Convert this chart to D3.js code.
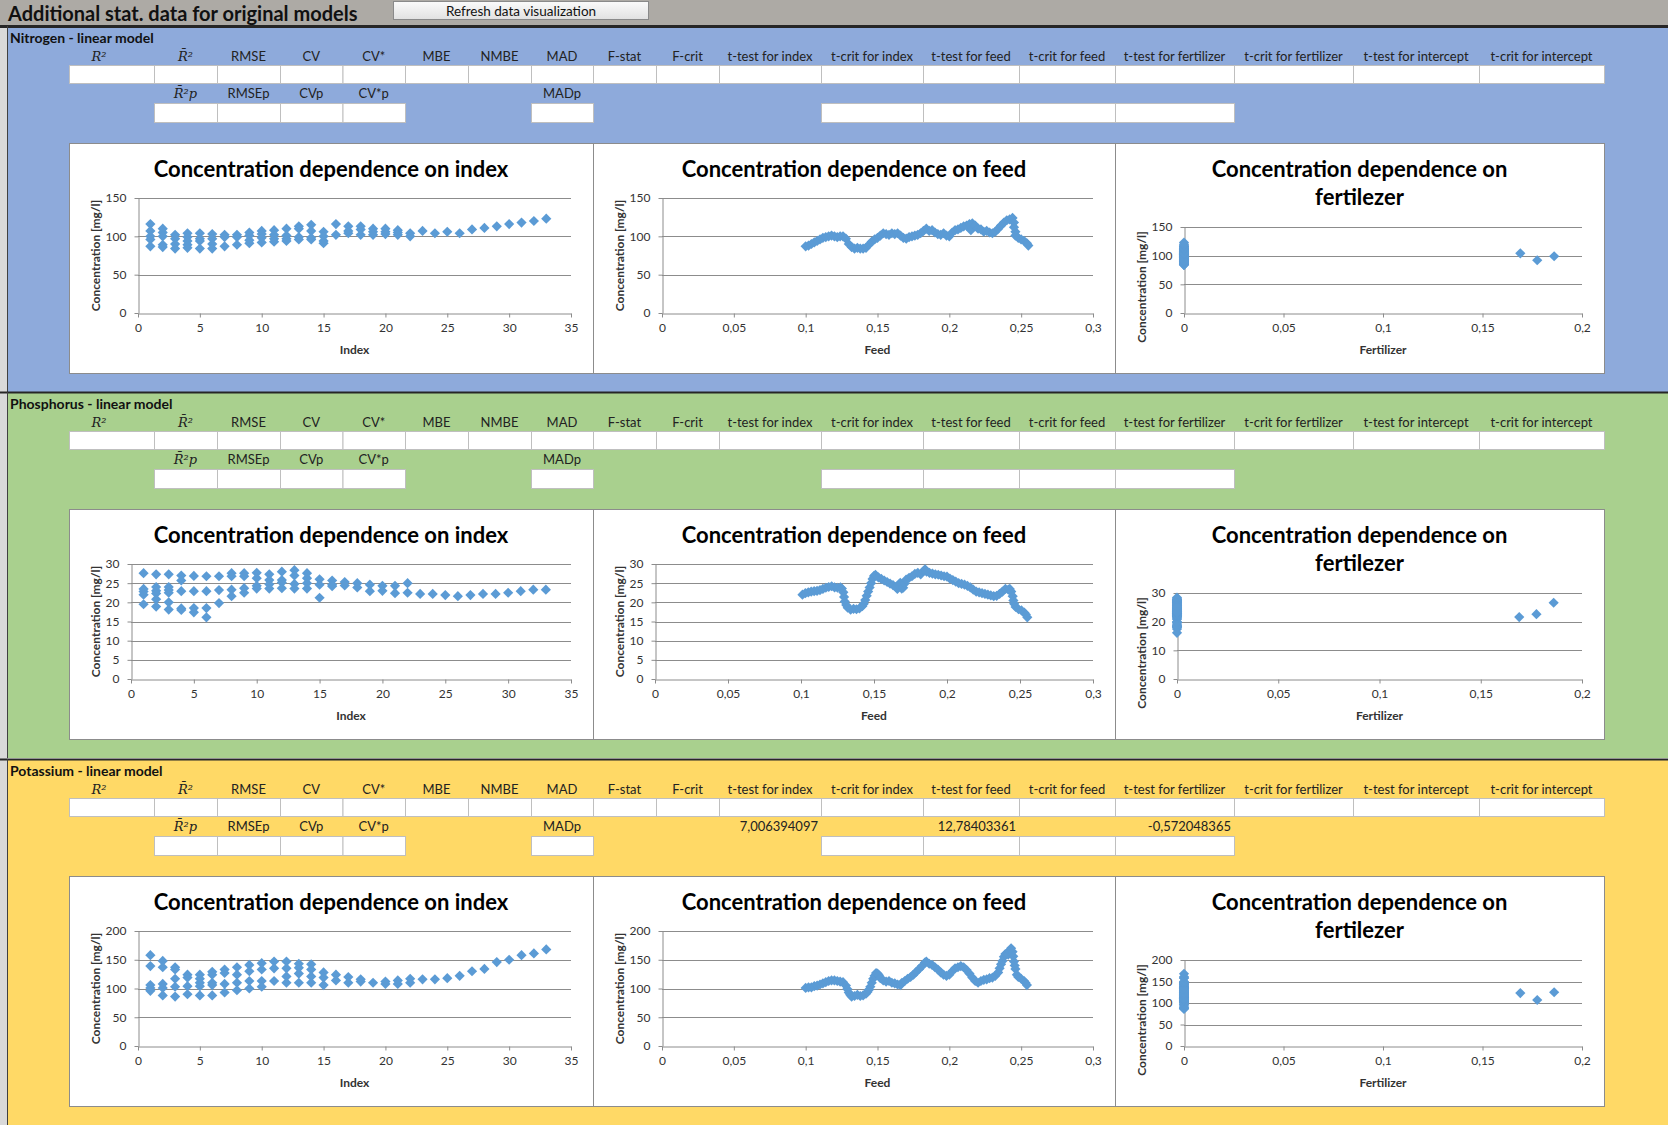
<!DOCTYPE html>
<html>
<head>
<meta charset="utf-8">
<script src="https://cdn.jsdelivr.net/npm/d3@7"></script>
<style>
  body { margin: 0; background: #fff; }
  svg { display: block; font-family: Lato, "Open Sans", sans-serif; }
</style>
</head>
<body>
<svg id="sheet" width="1668" height="1125"></svg>
<script>
// ---- data ----
const nutrients = ["Nitrogen", "Phosphorus", "Potassium"];

const statLabels = ["R²", "R\u0304²", "RMSE", "CV", "CV*", "MBE", "NMBE", "MAD", "F-stat", "F-crit",
  "t-test for index", "t-crit for index", "t-test for feed", "t-crit for feed",
  "t-test for fertilizer", "t-crit for fertilizer", "t-test for intercept", "t-crit for intercept"];
const predLabels = [[1, "R\u0304²p"], [2, "RMSEp"], [3, "CVp"], [4, "CV*p"], [7, "MADp"]];
const predCells = [1, 2, 3, 4, 7, 11, 12, 13, 14];
const kTValues = [[10, "7,006394097"], [12, "12,78403361"], [14, "-0,572048365"]];

// concentration per index (several observations per index)
const nIndex = [
  [116,107,100,96,87],[110,105,100,89,86],[102,97,90,84],[104,99,94,89,85],[104,97,94,84],
  [103,97,90,84],[102,99,87],[102,99,89],[105,101,95,91],[107,103,98,92],[108,102,97,93],
  [110,101,97,94],[113,110,99,96],[115,107,98,96],[106,100,94,91],[116,102],[113,107,104],
  [113,109,102],[110,106,102],[110,106,103],[108,105,102],[104,100],
  [107],[104],[106],[104],[109],[111],[113],[116],[118],[120],[123]
];
const pIndex = [
  [27.6,23.5,22.8,22,19.5],[27.3,24,23,22.3,20.8,18.9],[27.3,24,23.2,22.5,20,18.1],[27,25.7,22.9,18.4,18],
  [26.9,22.9,18.5,17.4],[26.8,22.9,18.5,16.1],[26.8,23.2,19.8],[27.6,26.8,23.3,21.6],[27.6,26.8,23.7,22.5],
  [27.7,26.3,24.3,23.6],[27.3,25.8,24.7,23.6],[28,25.8,25.2,23.7],[28.4,27,24.8,23.6],[27.6,26.3,25,23.6],
  [26,24.6,21.2],[25.7,24.6,24.2],[25.3,24.4],[25,23.9],[24.6,22.9],[24.3,23],[24.3,22.4],[25,22.5],
  [22.2],[22.2],[21.9],[21.6],[21.9],[22.2],[22.2],[22.5],[22.9],[23.3],[23.3]
];
const kIndex = [
  [158,139,106,101,96],[148,137,108,101,88],[137,133,117,103,86],[124,119,104,90],[124,117,110,104,88],
  [129,124,110,106,88],[133,127,108,93],[137,124,110,97],[141,130,113,100],[144,133,113,103],
  [147,135,113],[147,135,121,110],[143,136,126,110],[142,133,121,110],[128,119,106],[124,114],
  [120,110],[116,112],[110],[112,108],[114,108],[117,110],
  [116],[116],[118],[122],[130],[134],[146],[150],[158],[161],[168]
];

// [feed, concentration]
const nFeed = [
  [0.100,87],[0.102,88],[0.104,90],[0.106,92],[0.108,94],[0.110,96],[0.112,98],[0.114,99],[0.116,100],
  [0.118,101],[0.120,100],[0.122,99],[0.124,100],[0.126,100],[0.128,97],[0.130,90],[0.132,86],[0.134,84],
  [0.136,85],[0.138,84],[0.140,84],[0.142,85],[0.144,89],[0.146,93],[0.148,96],[0.150,98],[0.152,101],
  [0.154,104],[0.156,103],[0.158,102],[0.160,104],[0.162,103],[0.164,104],[0.166,101],[0.168,98],
  [0.170,97],[0.172,99],[0.174,100],[0.176,101],[0.178,102],[0.180,104],[0.182,107],[0.184,110],
  [0.186,107],[0.188,108],[0.190,105],[0.192,103],[0.194,102],[0.196,104],[0.198,101],[0.200,100],
  [0.202,105],[0.204,108],[0.206,109],[0.208,111],[0.210,113],[0.212,114],[0.214,116],[0.215,108],
  [0.216,117],[0.218,114],[0.220,110],[0.222,109],[0.224,106],[0.226,107],[0.228,105],[0.230,104],
  [0.232,106],[0.234,110],[0.236,114],[0.238,118],[0.240,121],[0.242,122],[0.244,124],[0.245,118],
  [0.245,112],[0.246,106],[0.246,101],[0.248,98],[0.250,96],[0.252,94],[0.254,91],[0.255,88]
];
const pFeed = [
  [0.101,22.0],[0.103,22.4],[0.105,22.6],[0.107,22.8],[0.109,22.9],[0.111,23.0],[0.113,23.2],[0.115,23.5],
  [0.117,23.8],[0.119,24.0],[0.121,24.2],[0.123,23.9],[0.125,23.8],[0.127,23.9],[0.128,23.6],[0.129,22.6],
  [0.1295,21.4],[0.130,20.2],[0.131,19.3],[0.132,18.6],[0.134,18.1],[0.136,18.3],[0.138,18.2],[0.140,18.4],
  [0.142,19.0],[0.143,19.6],[0.144,20.6],[0.145,21.7],[0.146,22.8],[0.147,23.9],[0.148,25.0],[0.149,26.1],
  [0.150,26.9],[0.151,27.2],[0.153,26.5],[0.155,26.1],[0.157,25.7],[0.159,25.3],[0.161,24.9],[0.163,24.5],
  [0.165,24.0],[0.166,23.5],[0.167,24.6],[0.168,25.1],[0.169,23.6],[0.170,23.8],[0.171,24.9],[0.172,25.9],
  [0.174,26.4],[0.176,26.8],[0.178,27.4],[0.180,27.7],[0.182,27.3],[0.184,28.2],[0.185,28.6],[0.186,28.0],
  [0.188,27.7],[0.190,27.5],[0.192,27.3],[0.194,27.2],[0.196,27.0],[0.198,26.8],[0.200,26.7],[0.202,26.2],
  [0.204,25.8],[0.206,25.4],[0.208,25.0],[0.210,24.8],[0.212,24.6],[0.214,24.3],[0.216,23.9],[0.218,23.3],
  [0.220,22.8],[0.222,22.6],[0.224,22.4],[0.226,22.2],[0.228,22.0],[0.230,21.8],[0.232,21.6],[0.234,21.7],
  [0.236,22.2],[0.238,22.8],[0.240,23.5],[0.242,23.3],[0.243,23.5],[0.244,22.8],[0.245,21.6],[0.2455,20.5],
  [0.246,19.6],[0.247,18.8],[0.249,18.2],[0.251,17.9],[0.253,17.3],[0.254,16.8],[0.255,16.1]
];
const kFeed = [
  [0.100,101],[0.102,102],[0.104,102],[0.106,104],[0.108,105],[0.110,107],[0.112,109],[0.114,111],
  [0.116,113],[0.118,114],[0.120,114],[0.122,113],[0.124,112],[0.126,111],[0.128,105],[0.129,99],
  [0.130,93],[0.131,89],[0.132,86],[0.134,87],[0.136,89],[0.138,87],[0.140,88],[0.142,91],[0.143,94],
  [0.144,98],[0.145,103],[0.146,110],[0.147,117],[0.148,122],[0.149,127],[0.150,126],[0.151,123],
  [0.152,118],[0.154,114],[0.156,112],[0.158,113],[0.160,110],[0.162,109],[0.164,107],[0.166,106],
  [0.167,110],[0.169,113],[0.171,117],[0.173,120],[0.175,124],[0.177,129],[0.179,134],[0.181,139],
  [0.183,145],[0.184,147],[0.186,143],[0.188,141],[0.190,137],[0.192,133],[0.194,128],[0.196,124],
  [0.198,122],[0.200,124],[0.202,130],[0.204,135],[0.206,137],[0.208,139],[0.210,137],[0.212,132],
  [0.214,126],[0.216,119],[0.218,113],[0.220,110],[0.222,113],[0.224,115],[0.226,116],[0.228,118],
  [0.230,119],[0.232,122],[0.234,128],[0.235,135],[0.236,142],[0.237,148],[0.238,155],[0.239,160],
  [0.240,161],[0.241,159],[0.242,165],[0.243,170],[0.244,164],[0.2445,156],[0.245,147],[0.2455,140],
  [0.246,134],[0.247,124],[0.248,120],[0.250,117],[0.252,113],[0.253,110],[0.254,106]
];

// fertilizer > 0 observations (rest of the data sits at fertilizer = 0)
const fertDoses = [0.169, 0.1775, 0.186];
const nFert = [104, 92, 99];
const pFert = [21.6, 22.6, 26.6];
const kFert = [123, 107, 125];

// axes
const yMax = [150, 30, 200];
const yTicksMain = [[0,50,100,150], [0,5,10,15,20,25,30], [0,50,100,150,200]];
const yTicksFert = [[0,50,100,150], [0,10,20,30], [0,50,100,150,200]];
const xTicksIndex = [0,5,10,15,20,25,30,35];
const xTicksFeed = [0,0.05,0.1,0.15,0.2,0.25,0.3];
const xTicksFert = [0,0.05,0.1,0.15,0.2];

// ---- layout ----
const W = 1668;
const colEdges = [69,154,217,280,342.5,405,468,531,593,656,719,821,923,1019,1115,1234,1353,1479,1604];
const secTop = [26, 392, 759];
const secH = 366;
const secColor = ["#8eaadb", "#a9d08e", "#ffd966"];
const blue = "#5b9bd5";
const gridCol = "#8c8c8c";
const cellFont = 13;

const svg = d3.select("#sheet");
const comma = d => String(+(+d).toFixed(3)).replace(".", ",");

// title bar
svg.append("rect").attr("x", 0).attr("y", 0).attr("width", W).attr("height", 26).attr("fill", "#adaaa5");
svg.append("text").attr("x", 8).attr("y", 13).attr("dominant-baseline", "central")
  .attr("font-size", 20).attr("font-weight", "bold").attr("fill", "#111")
  .text("Additional stat. data for original models");

const grad = svg.append("defs").append("linearGradient").attr("id", "btn").attr("x1", 0).attr("x2", 0).attr("y1", 0).attr("y2", 1);
grad.append("stop").attr("offset", 0).attr("stop-color", "#fbfbfb");
grad.append("stop").attr("offset", 1).attr("stop-color", "#e1e1e1");
svg.append("rect").attr("x", 393.5).attr("y", 1.5).attr("width", 255).attr("height", 18)
  .attr("fill", "url(#btn)").attr("stroke", "#8a8a8a");
svg.append("text").attr("x", 521).attr("y", 10.5).attr("text-anchor", "middle").attr("dominant-baseline", "central")
  .attr("font-size", 13.5).attr("fill", "#111").text("Refresh data visualization");

// left strip
svg.append("rect").attr("x", 0).attr("y", 26).attr("width", 8).attr("height", 1125 - 26).attr("fill", "#d9d9d9");

function drawChart(g, c) {
  g.append("rect").attr("x", c.x0 + 0.5).attr("y", c.y0 + 0.5).attr("width", c.x1 - c.x0).attr("height", 230)
    .attr("fill", "#fff").attr("stroke", gridCol);
  c.title.forEach((t, i) => {
    g.append("text").attr("x", (c.x0 + c.x1) / 2).attr("y", c.y0 + 25 + i * 28)
      .attr("text-anchor", "middle").attr("dominant-baseline", "central")
      .attr("font-size", 22).attr("font-weight", "bold").attr("fill", "#000").text(t);
  });
  const left = Math.round(c.x0 + c.leftOff), right = c.x1 - 22;
  const top = c.y0 + c.topOff, bottom = c.y0 + 170;
  const x = d3.scaleLinear().domain(c.xDomain).range([left, right]);
  const y = d3.scaleLinear().domain(c.yDomain).range([bottom, top]);

  g.append("g").selectAll("line").data(c.yTicks.slice(1)).join("line")
    .attr("x1", left).attr("x2", right)
    .attr("y1", d => Math.round(y(d)) + 0.5).attr("y2", d => Math.round(y(d)) + 0.5)
    .attr("stroke", gridCol);

  const xa = g.append("g").attr("transform", `translate(0,${bottom + 0.5})`)
    .call(d3.axisBottom(x).tickValues(c.xTicks).tickFormat(comma).tickSizeInner(4).tickSizeOuter(0).tickPadding(6));
  const ya = g.append("g").attr("transform", `translate(${left + 0.5},0)`)
    .call(d3.axisLeft(y).tickValues(c.yTicks).tickFormat(comma).tickSizeInner(4).tickSizeOuter(0).tickPadding(8));
  [xa, ya].forEach(a => {
    a.attr("font-family", "Lato, sans-serif").attr("font-size", 12);
    a.selectAll("path, line").attr("stroke", gridCol);
    a.selectAll("text").attr("fill", "#333");
  });

  g.append("text").attr("x", (left + right) / 2).attr("y", c.y0 + 206)
    .attr("text-anchor", "middle").attr("dominant-baseline", "central")
    .attr("font-size", 12).attr("font-weight", "bold").attr("fill", "#333").text(c.xLabel);
  const yc = c.yTitleY != null ? c.y0 + c.yTitleY : (top + bottom) / 2;
  g.append("text").attr("transform", `translate(${c.x0 + 26},${yc}) rotate(-90)`)
    .attr("text-anchor", "middle").attr("dominant-baseline", "central")
    .attr("font-size", 12).attr("font-weight", "bold").attr("fill", "#333").text("Concentration [mg/l]");

  const sym = d3.symbol().type(d3.symbolSquare).size(52);
  g.append("g").selectAll("path").data(c.points).join("path")
    .attr("d", sym)
    .attr("transform", d => `translate(${x(d[0])},${y(d[1])}) rotate(45)`)
    .attr("fill", blue);
}

const indexData = [nIndex, pIndex, kIndex];
const feedData = [nFeed, pFeed, kFeed];
const fertData = [nFert, pFert, kFert];

nutrients.forEach((name, s) => {
  const top = secTop[s];
  const g = svg.append("g");
  g.append("rect").attr("x", 8).attr("y", top).attr("width", W - 8).attr("height", secH).attr("fill", secColor[s]);
  g.append("line").attr("x1", 0).attr("x2", W).attr("y1", top + 0.5).attr("y2", top + 0.5)
    .attr("stroke", "#262626").attr("stroke-width", s === 0 ? 3 : 2);
  g.append("line").attr("x1", 7.5).attr("x2", 7.5).attr("y1", top).attr("y2", top + secH)
    .attr("stroke", "#404040");

  g.append("text").attr("x", 10).attr("y", top + 11).attr("dominant-baseline", "central")
    .attr("font-size", 14).attr("font-weight", "bold").attr("fill", "#111").text(name + " - linear model");

  // stat header + empty cells
  statLabels.forEach((lab, i) => {
    const isMath = i < 2;
    g.append("text")
      .attr("x", i === 0 ? 99 : (colEdges[i] + colEdges[i + 1]) / 2).attr("y", top + 30)
      .attr("text-anchor", "middle").attr("dominant-baseline", "central")
      .attr("font-size", isMath ? 13 : cellFont).attr("fill", "#222")
      .attr("font-family", isMath ? "'DejaVu Serif', serif" : null)
      .attr("font-style", isMath ? "italic" : null)
      .text(lab);
    g.append("rect").attr("x", colEdges[i] + 0.5).attr("y", top + 39.5)
      .attr("width", colEdges[i + 1] - colEdges[i]).attr("height", 18)
      .attr("fill", "#fff").attr("stroke", "#bfbfbf");
  });
  predLabels.forEach(([i, lab]) => {
    const isMath = i === 1;
    g.append("text").attr("x", (colEdges[i] + colEdges[i + 1]) / 2).attr("y", top + 67)
      .attr("text-anchor", "middle").attr("dominant-baseline", "central")
      .attr("font-size", isMath ? 13 : cellFont).attr("fill", "#222")
      .attr("font-family", isMath ? "'DejaVu Serif', serif" : null)
      .attr("font-style", isMath ? "italic" : null)
      .text(lab);
  });
  predCells.forEach(i => {
    g.append("rect").attr("x", colEdges[i] + 0.5).attr("y", top + 77.5)
      .attr("width", colEdges[i + 1] - colEdges[i]).attr("height", 19)
      .attr("fill", "#fff").attr("stroke", "#bfbfbf");
  });
  if (s === 2) {
    kTValues.forEach(([i, v]) => {
      g.append("text").attr("x", colEdges[i + 1] - 3).attr("y", top + 67)
        .attr("text-anchor", "end").attr("dominant-baseline", "central")
        .attr("font-size", cellFont).attr("fill", "#222").text(v);
    });
  }

  const pTop = top + 117;
  const leftOff = s === 1 ? 61.5 : 68.5;
  const idxPts = indexData[s].flatMap((vals, i) => vals.map(v => [i + 1, v]));

  drawChart(g, {
    x0: colEdges[0], x1: colEdges[8], y0: pTop, leftOff, topOff: 55,
    title: ["Concentration dependence on index"], xLabel: "Index",
    xDomain: [0, 35], xTicks: xTicksIndex, yDomain: [0, yMax[s]], yTicks: yTicksMain[s],
    points: idxPts
  });
  drawChart(g, {
    x0: colEdges[8], x1: colEdges[14], y0: pTop, leftOff: leftOff + 0.5, topOff: 55,
    title: ["Concentration dependence on feed"], xLabel: "Feed",
    xDomain: [0, 0.3], xTicks: xTicksFeed, yDomain: [0, yMax[s]], yTicks: yTicksMain[s],
    points: feedData[s]
  });
  const fertPts = idxPts.map(d => [0, d[1]]).concat(fertDoses.map((f, i) => [f, fertData[s][i]]));
  drawChart(g, {
    x0: colEdges[14], x1: colEdges[18], y0: pTop, leftOff: leftOff + 0.5, topOff: 84, yTitleY: 144,
    title: ["Concentration dependence on", "fertilezer"], xLabel: "Fertilizer",
    xDomain: [0, 0.2], xTicks: xTicksFert, yDomain: [0, yMax[s]], yTicks: yTicksFert[s],
    points: fertPts
  });
});
</script>
</body>
</html>
